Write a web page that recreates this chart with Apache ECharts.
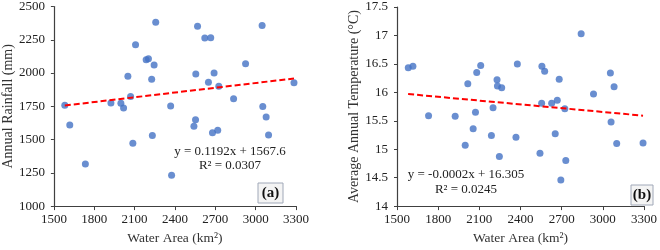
<!DOCTYPE html>
<html>
	<head>
		<meta charset="utf-8">
		<title></title>
		<script src="https://cdn.jsdelivr.net/npm/echarts@6/dist/echarts.min.js"></script>
		<style>
			body{margin:0;background:#fff;}
			.chart{width:660px;height:250px;}
		</style>
	</head>
	<body>
		<div class="chart"></div>
		<script>
			// water area (km2), same stations for both panels
			var areaA = [1581,1618,1734,1924,1998,2018,2050,2070,2087,2107,2186,2203,2245,2227,2232,2257,2368,2375,
				2555,2553,2541,2568,2622,2666,2649,2691,2726,2679,2718,2836,2925,3048,3053,3078,3096,3285];
			var rainA = [1757,1610,1317,1775,1772,1738,1976,1824,1472,2212,2099,2107,2060,1954,1531,2382,1752,1231,
				1993,1649,1600,2352,2264,2266,1930,2001,1900,1551,1570,1807,2070,2357,1748,1669,1534,1927];
			var areaB = [1582,1616,1730,1924,1997,2016,2055,2081,2072,2110,2188,2200,2229,2232,2263,2246,2367,2377,
				2542,2554,2556,2576,2627,2668,2653,2682,2694,2723,2730,2842,2932,3055,3060,3082,3101,3293];
			var tempB = [16.43,16.46,15.59,15.58,15.07,16.15,15.36,16.35,15.65,16.47,15.24,15.73,16.22,16.11,16.08,14.87,15.21,16.50,
				14.93,15.81,16.46,16.37,15.81,15.86,15.27,16.23,14.46,15.71,14.80,17.03,15.97,16.34,15.48,16.10,15.10,15.11];
			// trend lines as drawn (ends at data range)
			var trendA = [[1581,1756],[3285,1959]];
			var trendB = [[1581,15.97],[3293,15.59]];
			var eqA = ['y = 0.1192x + 1567.6','R² = 0.0307'];
			var eqB = ['y = -0.0002x + 16.305','R² = 0.0245'];

			function zip(xs,ys){
				var out=[];
				for(var i=0;i<xs.length;i++){out.push([xs[i],ys[i]]);}
				return out;
			}
			function plain(v){ return String(v); }

			var font = 'Liberation Serif';
			var axisCol = '#404040';
			function xAx(idx){
				return {
					gridIndex:idx, type:'value', min:1500, max:3300, interval:300,
					name:'Water Area (km²)', nameLocation:'middle', nameGap:22,
					nameTextStyle:{fontFamily:font,fontSize:13.5,color:'#333'},
					axisLine:{lineStyle:{color:axisCol,width:1.2}},
					axisTick:{show:true,length:4,lineStyle:{color:axisCol}},
					axisLabel:{fontFamily:font,fontSize:13,color:'#222',margin:7,formatter:plain},
					splitLine:{show:false}
				};
			}
			function yAx(idx,min,max,itv,name,gap){
				return {
					gridIndex:idx, type:'value', min:min, max:max, interval:itv,
					name:name, nameLocation:'middle', nameGap:gap,
					nameTextStyle:{fontFamily:font,fontSize:14,color:'#333'},
					axisLine:{show:true,lineStyle:{color:axisCol,width:1.2}},
					axisTick:{show:true,length:3,lineStyle:{color:axisCol}},
					axisLabel:{fontFamily:font,fontSize:13,color:'#222',margin:9,formatter:plain},
					splitLine:{show:false}
				};
			}

			var chart = echarts.init(document.querySelector('.chart'));
			chart.setOption({
				animation:false,
				backgroundColor:'#fff',
				grid:[
					{left:53,top:6,width:243,height:203},
					{left:397,top:7,width:247,height:202}
				],
				xAxis:[xAx(0),xAx(1)],
				yAxis:[
					yAx(0,1000,2500,250,'Annual Rainfall (mm)',38),
					yAx(1,14,17.5,0.5,'Average Annual Temperature (°C)',34)
				],
				series:[
					{type:'scatter',xAxisIndex:0,yAxisIndex:0,symbolSize:7,itemStyle:{color:'#4472C4'},data:zip(areaA,rainA)},
					{type:'line',xAxisIndex:0,yAxisIndex:0,symbol:'none',data:trendA,
						lineStyle:{color:'#FF0000',width:2,type:[6,3]}},
					{type:'scatter',xAxisIndex:1,yAxisIndex:1,symbolSize:7,itemStyle:{color:'#4472C4'},data:zip(areaB,tempB)},
					{type:'line',xAxisIndex:1,yAxisIndex:1,symbol:'none',data:trendB,
						lineStyle:{color:'#FF0000',width:2,type:[6,3]}}
				],
				graphic:[
					{type:'text',x:230,y:152,style:{text:eqA[0],font:'13px "Liberation Serif"',fill:'#222',align:'center',verticalAlign:'middle'}},
					{type:'text',x:230,y:166,style:{text:eqA[1],font:'13px "Liberation Serif"',fill:'#222',align:'center',verticalAlign:'middle'}},
					{type:'text',x:466,y:175,style:{text:eqB[0],font:'13px "Liberation Serif"',fill:'#222',align:'center',verticalAlign:'middle'}},
					{type:'text',x:466,y:190,style:{text:eqB[1],font:'13px "Liberation Serif"',fill:'#222',align:'center',verticalAlign:'middle'}},
					{type:'rect',shape:{x:258,y:183,width:25,height:20},style:{fill:'#f4f4f4',stroke:'#a0a8b8',lineWidth:1}},
					{type:'text',x:270.5,y:193,style:{text:'(a)',font:'bold 15px "Liberation Serif"',fill:'#111',align:'center',verticalAlign:'middle'}},
					{type:'rect',shape:{x:631,y:185,width:22,height:20},style:{fill:'#f4f4f4',stroke:'#a0a8b8',lineWidth:1}},
					{type:'text',x:642,y:195,style:{text:'(b)',font:'bold 15px "Liberation Serif"',fill:'#111',align:'center',verticalAlign:'middle'}}
				]
			});
		</script>
	</body>
</html>
